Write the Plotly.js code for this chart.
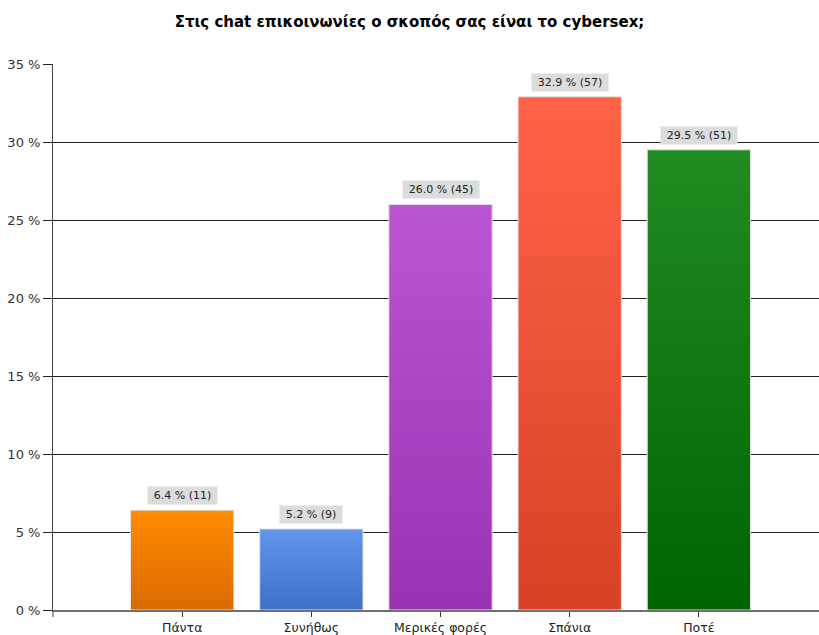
<!DOCTYPE html>
<html>
<head>
<meta charset="utf-8">
<script src="https://cdn.plot.ly/plotly-3.0.1.min.js"></script>
<style>html,body{margin:0;padding:0;background:#fff;}#chart{width:819px;height:635px;}</style>
</head>
<body>
<div id="chart"></div>
<script>
const categories = ["Πάντα", "Συνήθως", "Μερικές φορές", "Σπάνια", "Ποτέ"];
const percents = [6.4, 5.2, 26.0, 32.9, 29.5];
const counts = [11, 9, 45, 57, 51];
const topColors = ["#FF8C00", "#6495ED", "#BA55D3", "#FF6347", "#228B22"];
const bottomColors = ["#D96A00", "#3F70C9", "#9A33B3", "#D84125", "#006400"];
const yTicks = [0, 5, 10, 15, 20, 25, 30, 35];
const titleText = "Στις chat επικοινωνίες ο σκοπός σας είναι το cybersex;";

const font = "DejaVu Sans, sans-serif";

const trace = {
  type: "bar",
  x: categories,
  y: percents,
  width: 0.8,
  marker: { color: topColors, line: { color: "#e4e4e4", width: 1 } },
  hoverinfo: "skip"
};

const annotations = categories.map((c, i) => {
  const txt = percents[i].toFixed(1) + " % (" + counts[i] + ")";
  return {
    x: c, y: percents[i], xref: "x", yref: "y",
    text: txt, width: Math.round(txt.length * 6.9 - 4),
    showarrow: false, yanchor: "bottom", yshift: 5,
    bgcolor: "#dcdcdc", borderpad: 2,
    font: { family: font, size: 11, color: "#222" }
  };
});

const layout = {
  width: 819, height: 635,
  margin: { l: 53, r: 0, t: 64, b: 25, pad: 0 },
  paper_bgcolor: "#fff", plot_bgcolor: "#fff",
  showlegend: false,
  title: { text: "<b>" + titleText + "</b>", x: 0.5, xanchor: "center", y: 1 - 22/635, yanchor: "middle",
           font: { family: font, size: 15, color: "#000" } },
  xaxis: {
    type: "category", range: [-1, 4.93], fixedrange: true,
    showgrid: false, zeroline: false,
    showline: true, linecolor: "#707070", linewidth: 2,
    ticks: "outside", ticklen: 5, tickcolor: "#333", tickwidth: 1,
    tickfont: { family: font, size: 12.5, color: "#222" }
  },
  yaxis: {
    range: [0, 35], tickvals: yTicks, ticktext: yTicks.map(v => v + " %"),
    showgrid: true, gridcolor: "#222", gridwidth: 1, zeroline: false,
    showline: true, linecolor: "#444", linewidth: 1,
    ticks: "outside", ticklen: 9, tickcolor: "#222", tickwidth: 1,
    tickfont: { family: font, size: 13, color: "#333" }
  },
  shapes: [{ type: "line", xref: "paper", yref: "paper", x0: 0, x1: 0, y0: -7/546, y1: 0,
             line: { color: "#444", width: 1 } }],
  annotations: annotations
};

Plotly.newPlot("chart", [trace], layout, { displayModeBar: false, staticPlot: true }).then(gd => {
  const svg = gd.querySelector("svg.main-svg");
  const ns = "http://www.w3.org/2000/svg";
  let defs = svg.querySelector("defs");
  if (!defs) { defs = document.createElementNS(ns, "defs"); svg.insertBefore(defs, svg.firstChild); }
  const paths = gd.querySelectorAll(".barlayer .point path");
  paths.forEach((p, i) => {
    const g = document.createElementNS(ns, "linearGradient");
    g.setAttribute("id", "barGrad" + i);
    g.setAttribute("x1", "0"); g.setAttribute("y1", "0");
    g.setAttribute("x2", "0"); g.setAttribute("y2", "1");
    const s1 = document.createElementNS(ns, "stop");
    s1.setAttribute("offset", "0"); s1.setAttribute("stop-color", topColors[i]);
    const s2 = document.createElementNS(ns, "stop");
    s2.setAttribute("offset", "1"); s2.setAttribute("stop-color", bottomColors[i]);
    g.appendChild(s1); g.appendChild(s2); defs.appendChild(g);
    p.style.fill = "url(#barGrad" + i + ")";
  });
});
</script>
</body>
</html>
